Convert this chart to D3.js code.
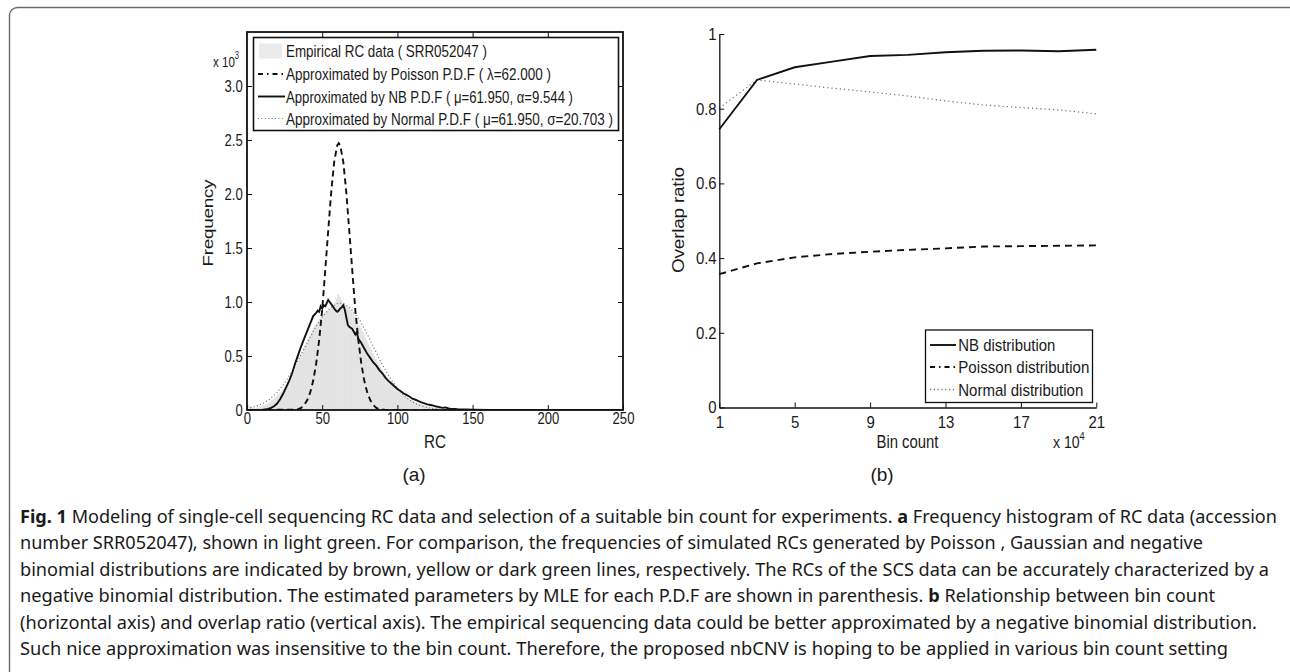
<!DOCTYPE html>
<html>
<head>
<meta charset="utf-8">
<script src="https://cdn.jsdelivr.net/npm/d3@7"></script>
<style>
  body { margin: 0; background: #fff; }
  svg text { font-family: "Liberation Sans", Arial, sans-serif; fill: #1a1a1a; }
  svg .caption text { font-family: "Noto Sans", "Open Sans", sans-serif; white-space: pre; }
</style>
</head>
<body>
<svg id="fig" width="1290" height="672"></svg>
<script>
// ---------- panel (a): RC histogram + fitted P.D.F curves (values in x 10^3) ----------
const histFreq = [ // one bar per RC = 0, 1, 2, ...
  0.05,0.04,0.03,0.022,0.018,0.016,0.02,0.024,0.03,0.034,
  0.04,0.046,0.052,0.06,0.068,0.078,0.088,0.10,0.112,0.125,
  0.138,0.152,0.166,0.18,0.195,0.21,0.235,0.26,0.285,0.31,
  0.34,0.37,0.40,0.43,0.465,0.50,0.535,0.57,0.60,0.63,
  0.66,0.69,0.715,0.74,0.765,0.79,0.81,0.83,0.85,0.865,
  0.88,0.895,0.91,0.92,0.93,0.94,0.955,0.97,0.995,1.035,
  1.07,1.05,1.02,0.995,0.985,0.972,0.958,0.944,0.926,0.906,
  0.885,0.862,0.838,0.812,0.786,0.758,0.73,0.702,0.672,0.642,
  0.614,0.585,0.556,0.528,0.5,0.474,0.448,0.422,0.398,0.375,
  0.352,0.33,0.31,0.29,0.272,0.254,0.237,0.221,0.206,0.192,
  0.178,0.166,0.154,0.143,0.132,0.122,0.113,0.104,0.096,0.089,
  0.082,0.076,0.07,0.064,0.059,0.054,0.05,0.046,0.042,0.038,
  0.035,0.032,0.029,0.026,0.024,0.022,0.02,0.018,0.016,0.015,
  0.013,0.012,0.011,0.01,0.009,0.008,0.007,0.0065,0.006,0.0055,
  0.005,0.0045,0.004,0.0035,0.003,0.003,0.0025,0.002,0.002,0.002,
  0.0015,0.0015,0.001,0.001,0.001,0.001
];

const poissonRC   = [0, 32, 34, 36, 38, 40, 42, 44, 46, 48, 50, 52, 54, 56, 58, 60, 61, 62, 64, 66, 68, 70, 72, 74, 76, 78, 80, 82, 84, 86, 88, 92, 250];
const poissonFreq = [0, 0.003, 0.008, 0.02, 0.045, 0.09, 0.16, 0.27, 0.43, 0.65, 0.93, 1.29, 1.66, 2.02, 2.30, 2.45, 2.47, 2.45, 2.30, 2.02, 1.66, 1.29, 0.93, 0.65, 0.43, 0.27, 0.16, 0.09, 0.045, 0.02, 0.008, 0.001, 0];

const nbRC = [0, 10, 12, 14, 16, 18, 20, 22, 24, 26, 28,
  30, 32, 34, 36, 38, 40, 42, 44, 46,
  47, 48, 49, 50, 51, 52, 53, 54, 55, 56, 57, 58, 59, 60, 61, 62, 63, 64, 65, 66, 67, 68,
  70, 72, 73, 74, 76, 78, 80,
  82, 84, 86, 88, 90, 92, 94, 96, 98, 100, 102, 104, 106, 108, 110, 112, 114, 116, 118, 120,
  122, 124, 126, 128, 130, 132, 134, 136, 138, 140, 145, 150, 160, 170, 250];
const nbFreq = [0, 0, 0.005, 0.01, 0.02, 0.035, 0.06, 0.10, 0.15, 0.21, 0.27,
  0.34, 0.43, 0.51, 0.59, 0.66, 0.73, 0.80, 0.87, 0.90,
  0.92, 0.91, 0.96, 0.94, 0.97, 0.96, 0.99, 1.02, 1.0, 0.98, 0.96, 0.94, 0.92, 0.91, 0.92, 0.94, 0.95, 0.97, 0.93, 0.86, 0.79, 0.77,
  0.75, 0.70, 0.72, 0.66, 0.62, 0.57, 0.52,
  0.48, 0.44, 0.41, 0.37, 0.34, 0.30, 0.27, 0.245, 0.22, 0.195, 0.175, 0.155, 0.14, 0.125, 0.105, 0.095, 0.082, 0.07, 0.062, 0.052,
  0.046, 0.04, 0.032, 0.026, 0.02, 0.024, 0.014, 0.01, 0.01, 0.008, 0.005, 0.003, 0.001, 0, 0];

const normalRC   = [0, 5, 10, 15, 20, 25, 30, 35, 40, 45, 50, 55, 58, 60, 62, 65, 68, 70, 75, 80, 85, 90, 95, 100, 105, 110, 115, 120, 125, 130, 140, 150, 250];
const normalFreq = [0.015, 0.03, 0.055, 0.10, 0.16, 0.25, 0.36, 0.49, 0.62, 0.75, 0.86, 0.94, 0.97, 0.985, 0.99, 0.98, 0.95, 0.92, 0.83, 0.70, 0.56, 0.42, 0.30, 0.20, 0.125, 0.075, 0.042, 0.022, 0.011, 0.005, 0.001, 0, 0];

const rcTicks   = [0, 50, 100, 150, 200, 250];
const freqTicks = [0, 0.5, 1.0, 1.5, 2.0, 2.5, 3.0];
const legendA = [
  'Empirical RC data ( SRR052047 )',
  'Approximated by Poisson P.D.F ( λ=62.000 )',
  'Approximated by NB P.D.F ( μ=61.950, α=9.544 )',
  'Approximated by Normal P.D.F ( μ=61.950, σ=20.703 )'
];

// ---------- panel (b): overlap ratio vs bin count (x 10^4) ----------
const binCounts      = [1, 3, 5, 7, 9, 11, 13, 15, 17, 19, 21];
const overlapNB      = [0.745, 0.877, 0.911, 0.926, 0.941, 0.944, 0.951, 0.955, 0.956, 0.954, 0.958];
const overlapPoisson = [0.357, 0.386, 0.402, 0.411, 0.417, 0.422, 0.426, 0.431, 0.432, 0.433, 0.434];
const overlapNormal  = [0.802, 0.877, 0.866, 0.855, 0.845, 0.834, 0.821, 0.810, 0.803, 0.797, 0.786];
const binTicks     = [1, 5, 9, 13, 17, 21];
const overlapTicks = [0, 0.2, 0.4, 0.6, 0.8, 1];
const legendB = ['NB distribution', 'Poisson distribution', 'Normal distribution'];

// ---------- caption ----------
const captionLines = [
  [{ b: 'Fig. 1' }, ' Modeling of single-cell sequencing RC data and selection of a suitable bin count for experiments. ', { b: 'a' }, ' Frequency histogram of RC data (accession'],
  ['number SRR052047), shown in light green. For comparison, the frequencies of simulated RCs generated by Poisson , Gaussian and negative'],
  ['binomial distributions are indicated by brown, yellow or dark green lines, respectively. The RCs of the SCS data can be accurately characterized by a'],
  ['negative binomial distribution. The estimated parameters by MLE for each P.D.F are shown in parenthesis. ', { b: 'b' }, ' Relationship between bin count'],
  ['(horizontal axis) and overlap ratio (vertical axis). The empirical sequencing data could be better approximated by a negative binomial distribution.'],
  ['Such nice approximation was insensitive to the bin count. Therefore, the proposed nbCNV is hoping to be applied in various bin count setting']
];

const svg = d3.select('#fig');
const zip = (xs, ys) => xs.map((x, i) => [x, ys[i]]);

// outer frame of the figure (open at right/bottom, cut by the page)
svg.append('rect')
  .attr('x', 9.5).attr('y', 7.5)
  .attr('width', 1320).attr('height', 700)
  .attr('rx', 8)
  .attr('fill', 'none')
  .attr('stroke', '#6b6b6b')
  .attr('stroke-width', 1.4);

// the original figure was squeezed horizontally, text included
const squeeze = (sel, sx) => sel.attr('transform', `scale(${sx},1)`);

// ================= panel (a) =================
const A = { left: 247, right: 623, top: 32, bottom: 410 };
const xA = d3.scaleLinear().domain([0, 250]).range([A.left, A.right]);
const yA = d3.scaleLinear().domain([0, 3.5]).range([A.bottom, A.top]);

svg.append('clipPath').attr('id', 'clipA')
  .append('rect')
    .attr('x', A.left).attr('y', A.top)
    .attr('width', A.right - A.left).attr('height', A.bottom - A.top);

const plotA = svg.append('g').attr('clip-path', 'url(#clipA)');

plotA.append('g').classed('hist', true)
  .selectAll('rect')
  .data(histFreq)
  .enter()
  .append('rect')
    .attr('x', (d, i) => xA(i))
    .attr('y', (d) => yA(d))
    .attr('width', xA(1) - xA(0) + 0.4)
    .attr('height', (d) => yA(0) - yA(d))
    .attr('fill', '#e3e3e3');

const lineA = d3.line().x((d) => xA(d[0])).y((d) => yA(d[1]));

plotA.append('path')
  .datum(zip(normalRC, normalFreq))
  .attr('d', lineA)
  .attr('fill', 'none')
  .attr('stroke', '#6e6e6e')
  .attr('stroke-width', 1.2)
  .attr('stroke-dasharray', '1,2.4');

plotA.append('path')
  .datum(zip(poissonRC, poissonFreq))
  .attr('d', lineA)
  .attr('fill', 'none')
  .attr('stroke', '#111')
  .attr('stroke-width', 1.9)
  .attr('stroke-dasharray', '6,4');

plotA.append('path')
  .datum(zip(nbRC, nbFreq))
  .attr('d', lineA)
  .attr('fill', 'none')
  .attr('stroke', '#111')
  .attr('stroke-width', 1.9);

const SXA = 0.77;
const styleAxis = (g) => {
  g.attr('font-size', 17).attr('font-family', '"Liberation Sans", Arial, sans-serif');
  g.select('.domain').remove();
  g.selectAll('.tick line').attr('stroke', '#111').attr('stroke-width', 1);
};

svg.append('g')
  .attr('transform', `translate(0,${A.bottom})`)
  .call(d3.axisBottom(xA).tickValues(rcTicks).tickSizeInner(-5).tickSizeOuter(0).tickPadding(2))
  .call(styleAxis)
  .call((g) => squeeze(g.selectAll('.tick text'), SXA));

svg.append('g')
  .attr('transform', `translate(${A.left},0)`)
  .call(d3.axisLeft(yA).tickValues(freqTicks).tickSizeInner(-5).tickSizeOuter(0).tickPadding(5.5)
    .tickFormat((d) => (d === 0 ? '0' : d3.format('.1f')(d))))
  .call(styleAxis)
  .call((g) => squeeze(g.selectAll('.tick text'), SXA));

svg.append('g')
  .attr('transform', `translate(0,${A.top})`)
  .call(d3.axisTop(xA).tickValues(rcTicks.slice(1, -1)).tickSizeInner(-5).tickSizeOuter(0).tickFormat(''))
  .call(styleAxis);

svg.append('g')
  .attr('transform', `translate(${A.right},0)`)
  .call(d3.axisRight(yA).tickValues(freqTicks.slice(1)).tickSizeInner(-5).tickSizeOuter(0).tickFormat(''))
  .call(styleAxis);

svg.append('rect')
  .attr('x', A.left).attr('y', A.top)
  .attr('width', A.right - A.left).attr('height', A.bottom - A.top)
  .attr('fill', 'none')
  .attr('stroke', '#111')
  .attr('stroke-width', 1.8);

// exponent label
const expA = svg.append('text')
  .attr('transform', `translate(213,66.5) scale(${SXA},1)`)
  .attr('font-size', 15);
expA.append('tspan').text('x 10');
expA.append('tspan').attr('font-size', 10).attr('dy', -8).text('3');

svg.append('text')
  .attr('transform', `translate(213,223) scale(0.8,1) rotate(-90)`)
  .attr('text-anchor', 'middle')
  .attr('font-size', 19)
  .attr('textLength', 87)
  .text('Frequency');

svg.append('text')
  .attr('x', 435).attr('y', 448)
  .attr('text-anchor', 'middle')
  .attr('font-size', 19)
  .attr('textLength', 22)
  .attr('lengthAdjust', 'spacingAndGlyphs')
  .text('RC');

// legend (a)
const legA = svg.append('g').classed('legend', true);
legA.append('rect')
  .attr('x', 253.5).attr('y', 37.5)
  .attr('width', 365).attr('height', 93)
  .attr('fill', '#fff')
  .attr('stroke', '#111')
  .attr('stroke-width', 1.6);

const legARows = [51, 74, 96.5, 118.5];
const legAWidths = [201, 265, 287, 327];
legA.append('rect')
  .attr('x', 259).attr('y', legARows[0] - 7.5)
  .attr('width', 23).attr('height', 15)
  .attr('fill', '#ebebeb');
const legAStyles = [null,
  { stroke: '#111', w: 1.9, dash: '5,4,1.5,4' },
  { stroke: '#111', w: 1.9, dash: null },
  { stroke: '#6e6e6e', w: 1.2, dash: '1,2.4' }];
legAStyles.forEach((s, i) => {
  if (!s) return;
  legA.append('line')
    .attr('x1', 258).attr('x2', 285)
    .attr('y1', legARows[i]).attr('y2', legARows[i])
    .attr('stroke', s.stroke)
    .attr('stroke-width', s.w)
    .attr('stroke-dasharray', s.dash);
});
legA.selectAll('text.item')
  .data(legendA)
  .enter()
  .append('text')
    .classed('item', true)
    .attr('x', 286)
    .attr('y', (d, i) => legARows[i] + 6)
    .attr('font-size', 17)
    .attr('textLength', (d, i) => legAWidths[i])
    .attr('lengthAdjust', 'spacingAndGlyphs')
    .text((d) => d);

svg.append('text')
  .attr('x', 414).attr('y', 481)
  .attr('text-anchor', 'middle')
  .attr('font-size', 19)
  .text('(a)');

// ================= panel (b) =================
const B = { left: 719.3, right: 1096.3, top: 34, bottom: 407.5 };
const xB = d3.scaleLinear().domain([1, 21]).range([B.left, B.right]);
const yB = d3.scaleLinear().domain([0, 1]).range([B.bottom, B.top]);
const SXB = 0.88;

const lineB = d3.line().x((d) => xB(d[0])).y((d) => yB(d[1]));

svg.append('path')
  .datum(zip(binCounts, overlapNormal))
  .attr('d', lineB)
  .attr('fill', 'none')
  .attr('stroke', '#777')
  .attr('stroke-width', 1.3)
  .attr('stroke-dasharray', '1.2,3');

svg.append('path')
  .datum(zip(binCounts, overlapPoisson))
  .attr('d', lineB)
  .attr('fill', 'none')
  .attr('stroke', '#111')
  .attr('stroke-width', 1.9)
  .attr('stroke-dasharray', '7,5');

svg.append('path')
  .datum(zip(binCounts, overlapNB))
  .attr('d', lineB)
  .attr('fill', 'none')
  .attr('stroke', '#111')
  .attr('stroke-width', 1.9);

const styleAxisB = (g) => {
  g.attr('font-size', 17).attr('font-family', '"Liberation Sans", Arial, sans-serif');
  g.select('.domain').attr('stroke', '#111').attr('stroke-width', 1.3);
  g.selectAll('.tick line').attr('stroke', '#111').attr('stroke-width', 1);
};

svg.append('g')
  .attr('transform', `translate(0,${B.bottom})`)
  .call(d3.axisBottom(xB).tickValues(binTicks).tickSizeInner(-5).tickSizeOuter(0).tickPadding(8))
  .call(styleAxisB)
  .call((g) => squeeze(g.selectAll('.tick text'), SXB));

svg.append('g')
  .attr('transform', `translate(${B.left},0)`)
  .call(d3.axisLeft(yB).tickValues(overlapTicks).tickSizeInner(-5).tickSizeOuter(0).tickPadding(3)
    .tickFormat(d3.format('~g')))
  .call(styleAxisB)
  .call((g) => squeeze(g.selectAll('.tick text'), SXB));

svg.append('text')
  .attr('transform', `translate(684,220) scale(0.85,1) rotate(-90)`)
  .attr('text-anchor', 'middle')
  .attr('font-size', 19)
  .attr('textLength', 106)
  .text('Overlap ratio');

svg.append('text')
  .attr('x', 907.5).attr('y', 448)
  .attr('text-anchor', 'middle')
  .attr('font-size', 18.5)
  .attr('textLength', 62)
  .attr('lengthAdjust', 'spacingAndGlyphs')
  .text('Bin count');

const expB = svg.append('text')
  .attr('transform', `translate(1053,448) scale(${SXB},1)`)
  .attr('font-size', 16);
expB.append('tspan').text('x 10');
expB.append('tspan').attr('font-size', 10.5).attr('dy', -8).text('4');

// legend (b)
const legB = svg.append('g').classed('legend', true);
legB.append('rect')
  .attr('x', 925.5).attr('y', 330)
  .attr('width', 167).attr('height', 72.5)
  .attr('fill', '#fff')
  .attr('stroke', '#111')
  .attr('stroke-width', 1.3);
const legBRows = [345, 367, 389.5];
const legBWidths = [97, 131, 125];
const legBStyles = [
  { stroke: '#111', w: 1.9, dash: null },
  { stroke: '#111', w: 1.9, dash: '5,4,1.5,4' },
  { stroke: '#777', w: 1.3, dash: '1.2,2.6' }];
legBStyles.forEach((s, i) => {
  legB.append('line')
    .attr('x1', 930).attr('x2', 956)
    .attr('y1', legBRows[i]).attr('y2', legBRows[i])
    .attr('stroke', s.stroke)
    .attr('stroke-width', s.w)
    .attr('stroke-dasharray', s.dash);
});
legB.selectAll('text.item')
  .data(legendB)
  .enter()
  .append('text')
    .classed('item', true)
    .attr('x', 958.3)
    .attr('y', (d, i) => legBRows[i] + 6)
    .attr('font-size', 17)
    .attr('textLength', (d, i) => legBWidths[i])
    .attr('lengthAdjust', 'spacingAndGlyphs')
    .text((d) => d);

svg.append('text')
  .attr('x', 882).attr('y', 481)
  .attr('text-anchor', 'middle')
  .attr('font-size', 19)
  .text('(b)');

// ================= caption =================
const captionX = 20;
const captionEnds = [1277, 1203, 1269, 1215, 1257, 1228];
const caption = svg.append('g').classed('caption', true);
captionLines.forEach((parts, i) => {
  const t = caption.append('text')
    .attr('x', captionX)
    .attr('y', 523 + i * 26.4)
    .attr('font-size', 17.5)
    .attr('fill', '#2a2a2a')
    .attr('textLength', captionEnds[i] - captionX)
    .attr('lengthAdjust', 'spacingAndGlyphs');
  parts.forEach((p) => {
    if (typeof p === 'string') t.append('tspan').text(p);
    else t.append('tspan').attr('font-weight', 'bold').text(p.b);
  });
});
</script>
</body>
</html>
